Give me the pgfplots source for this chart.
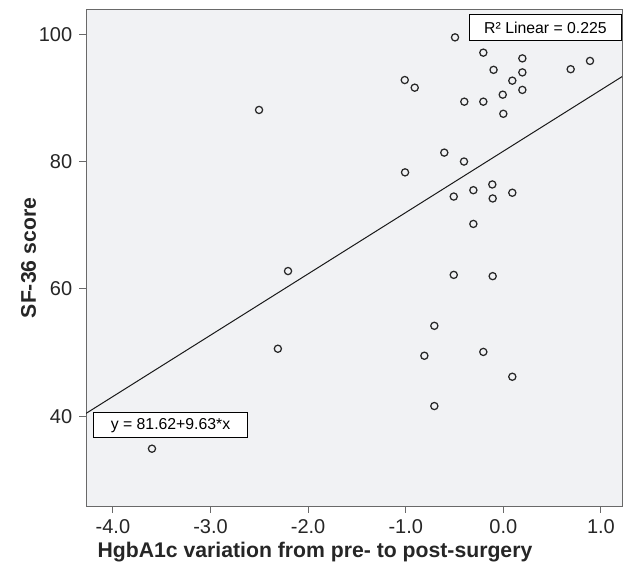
\documentclass[border=0pt]{standalone}
\usepackage{fontspec}
\setmainfont{Liberation Sans}
\usepackage{pgfplots}
\pgfplotsset{compat=1.18}
\definecolor{bg}{RGB}{241,242,244}
\definecolor{framec}{RGB}{105,105,105}
\definecolor{mk}{RGB}{40,40,40}
\newlength{\px}\setlength{\px}{0.5pt}
\begin{document}
\begin{tikzpicture}
\begin{axis}[
  scale only axis,
  width=536\px, height=496\px,
  xmin=-4.276, xmax=1.216, ymin=25.9, ymax=103.8,
  axis background/.style={fill=bg},
  axis line style={framec, line width=1\px},
  xtick={-4,-3,-2,-1,0,1},
  xticklabels={-4.0,-3.0,-2.0,-1.0,0.0,1.0},
  ytick={40,60,80,100},
  yticklabels={40,60,80,100},
  tick align=outside,
  xtick pos=left, ytick pos=left,
  tick style={framec, line width=1\px},
  major tick length=6.7\px,
  tick label style={font=\fontsize{10}{12}\selectfont, text=black!85},
  /pgf/number format/assume math mode=true,
  xlabel={HgbA1c variation from pre- to post-surgery},
  ylabel={SF-36 score},
  label style={font=\bfseries\fontsize{10.6}{12}\selectfont, text=black!85},
  xlabel style={at={(axis description cs:0.4272,-0.1048)}, anchor=base},
  ylabel style={at={(axis description cs:-0.1073,0.5)}, anchor=center},
  clip=true,
]
\addplot[only marks, mark=o, mark size=3.6\px, mark options={mk, line width=1.25\px}] coordinates {
(-0.495,99.5) (-0.205,97.1) (0.195,96.2) (0.888,95.8) (0.69,94.5)
(-0.10,94.4) (0.195,94.0) (0.092,92.7) (-1.01,92.8) (-0.908,91.6)
(0.195,91.25) (-0.006,90.5) (-0.40,89.4) (-0.205,89.4) (0.0,87.5)
(-0.605,81.4) (-0.403,80.0) (-1.007,78.3)
(-2.503,88.1) (-2.206,62.8)
(-0.113,76.4) (-0.307,75.5) (-0.508,74.5) (0.092,75.1) (-0.109,74.2)
(-0.307,70.2) (-0.508,62.2) (-0.109,62.0) (-0.707,54.2)
(-0.809,49.5) (-0.205,50.1) (0.092,46.2) (-0.707,41.6)
(-2.31,50.6) (-3.60,34.9)
};
\addplot[black!90, line width=1\px] coordinates {(-4.276,40.44) (1.216,93.33)};
\node[draw=black, fill=white, line width=1\px, anchor=north east, minimum width=152\px, minimum height=25.7\px, inner sep=0pt,
  font=\fontsize{7.9}{9}\selectfont] at ([yshift=-4.3\px]rel axis cs:1,1) {R² Linear = 0.225};
\node[draw=black, fill=white, line width=1\px, anchor=north west, minimum width=153.4\px, minimum height=25\px, inner sep=0pt,
  font=\fontsize{7.9}{9}\selectfont] at (axis cs:-4.201,40.64) {y = 81.62+9.63*x};
\end{axis}
\pgfresetboundingbox
\path[use as bounding box] ([xshift=-86\px,yshift=-67\px]current axis.south west) rectangle ([xshift=1\px,yshift=10\px]current axis.north east);
\end{tikzpicture}
\end{document}
